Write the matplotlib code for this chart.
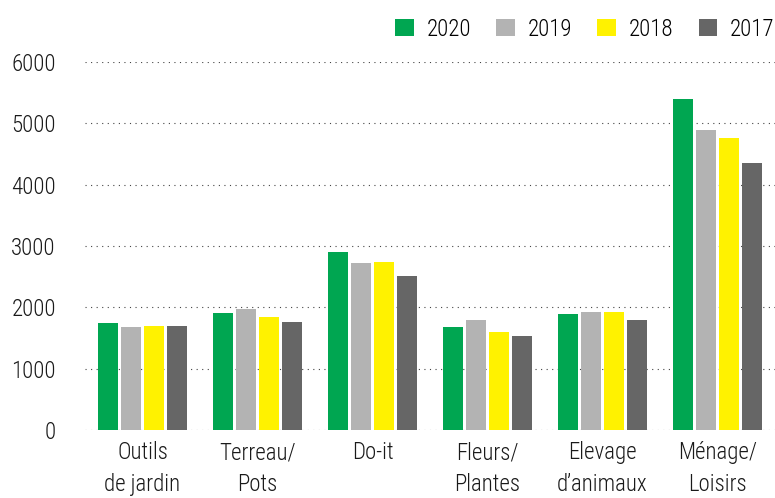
import numpy as np
import matplotlib
matplotlib.use('Agg')
from matplotlib import pyplot as plt
from matplotlib.patches import Patch

plt.rcParams['font.family'] = ['Roboto Condensed', 'DejaVu Sans']
plt.rcParams['font.weight'] = 'light'

categories = ['Outils\nde jardin', 'Terreau/\nPots', 'Do-it', 'Fleurs/\nPlantes', 'Elevage\nd\u2019animaux', 'Ménage/\nLoisirs']
years = ['2020', '2019', '2018', '2017']
v2020 = [1740, 1910, 2900, 1680, 1890, 5400]
v2019 = [1680, 1970, 2720, 1790, 1925, 4890]
v2018 = [1700, 1840, 2740, 1600, 1925, 4760]
v2017 = [1695, 1760, 2510, 1535, 1795, 4355]
colors = ['#00A651', '#B3B3B3', '#FFF200', '#666666']
yticks = [0, 1000, 2000, 3000, 4000, 5000, 6000]

series = [v2020, v2019, v2018, v2017]

fig = plt.figure(figsize=(7.75, 4.98), dpi=100)
ax = fig.add_axes([0.1097, 0.1365, 0.8903, 0.739])

x = np.arange(len(categories))
w = 0.2
for i, vals in enumerate(series):
    ax.bar(x + (i - 1.5)*w, vals, width=0.18, color=colors[i], zorder=3, label=years[i])

ax.set_xlim(-0.5, len(categories) - 0.5)
ax.set_ylim(0, 6000)
ax.set_yticks(yticks)
ax.set_yticklabels([str(t) for t in yticks], fontsize=16.5, color='#1a1a1a')
ax.set_xticks(x)
ax.set_xticklabels(categories, fontsize=16.5, color='#1a1a1a', linespacing=1.5)
ax.tick_params(axis='both', length=0)
ax.tick_params(axis='y', pad=21)
ax.tick_params(axis='x', pad=8)
for s in ax.spines.values():
    s.set_visible(False)
ax.yaxis.grid(True, color='#444444', linewidth=0.8, linestyle=(0, (1, 4)), zorder=0)
ax.set_axisbelow(True)

handles = [Patch(facecolor=c, edgecolor='none') for c in colors]
fig.legend(handles, years, loc='upper right', bbox_to_anchor=(1.02, 0.997), ncol=4,
           frameon=False, fontsize=16.5, handlelength=0.82, handleheight=0.82,
           handletextpad=0.55, columnspacing=1.1, borderaxespad=0.3)

fig.savefig('out.png', dpi=100)
